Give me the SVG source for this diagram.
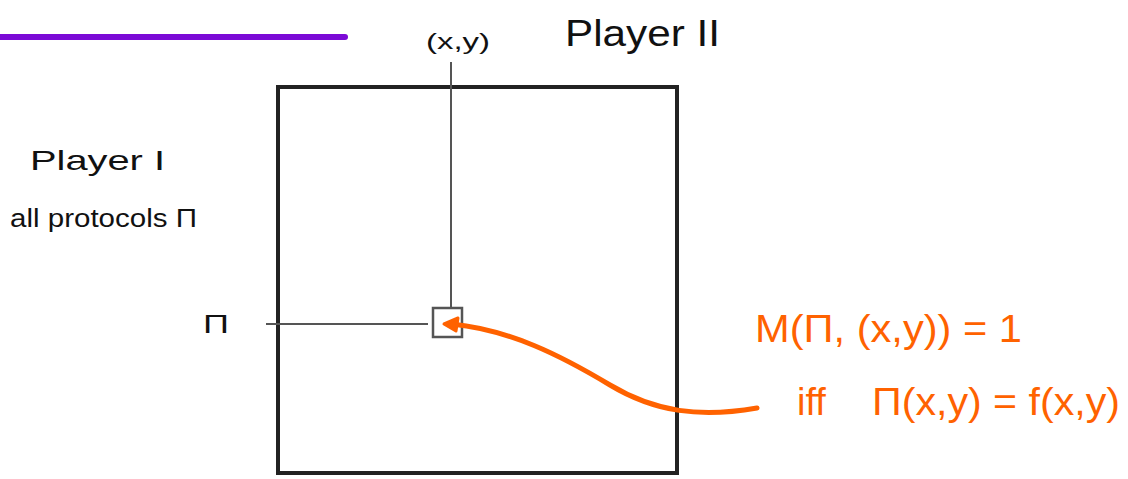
<svg xmlns="http://www.w3.org/2000/svg" width="1128" height="479" viewBox="0 0 1128 479">
<style>
.t{font-family:"Liberation Sans","DejaVu Sans",sans-serif;fill:#111}
.o{font-family:"Liberation Sans","DejaVu Sans",sans-serif;fill:#FF6200}
</style>
<rect width="1128" height="479" fill="#fff"/>
<line x1="0" y1="37" x2="345" y2="37" stroke="#7B0AD6" stroke-width="6" stroke-linecap="round"/>
<g id="board">
<rect x="278" y="87" width="399" height="386" fill="none" stroke="#222" stroke-width="4"/>
</g>
<g id="cell">
<rect x="433" y="308" width="29" height="29" fill="none" stroke="#555" stroke-width="2.5"/>
</g>
<g id="connectors">
<line x1="451" y1="62" x2="451" y2="308" stroke="#555" stroke-width="2"/>
<line x1="266" y1="324" x2="428" y2="324" stroke="#555" stroke-width="2"/>
<path d="M757 408 C700 418 655 412 610 385 C560 355 510 330 452 324" fill="none" stroke="#FF6200" stroke-width="5" stroke-linecap="round"/>
<path d="M444 324 L458 318 L456 331 Z" fill="#FF6200" stroke="#FF6200" stroke-width="3" stroke-linejoin="round"/>
</g>
<g id="labels">
<text class="t" x="426" y="49" font-size="22" textLength="64" lengthAdjust="spacingAndGlyphs">(x,y)</text>
<text class="t" x="565" y="46" font-size="36" textLength="155" lengthAdjust="spacingAndGlyphs">Player II</text>
<text class="t" x="30" y="170" font-size="28" textLength="135" lengthAdjust="spacingAndGlyphs">Player I</text>
<text class="t" x="10" y="227" font-size="26" textLength="187" lengthAdjust="spacingAndGlyphs">all protocols Π</text>
<text class="t" x="203" y="333" font-size="26" textLength="26" lengthAdjust="spacingAndGlyphs">Π</text>
<text class="o" x="755" y="342" font-size="38" textLength="267" lengthAdjust="spacingAndGlyphs">M(Π, (x,y)) = 1</text>
<text class="o" x="797" y="415" font-size="38"><tspan>iff</tspan><tspan x="872" textLength="248" lengthAdjust="spacingAndGlyphs">Π(x,y) = f(x,y)</tspan></text>
</g>
</svg>
